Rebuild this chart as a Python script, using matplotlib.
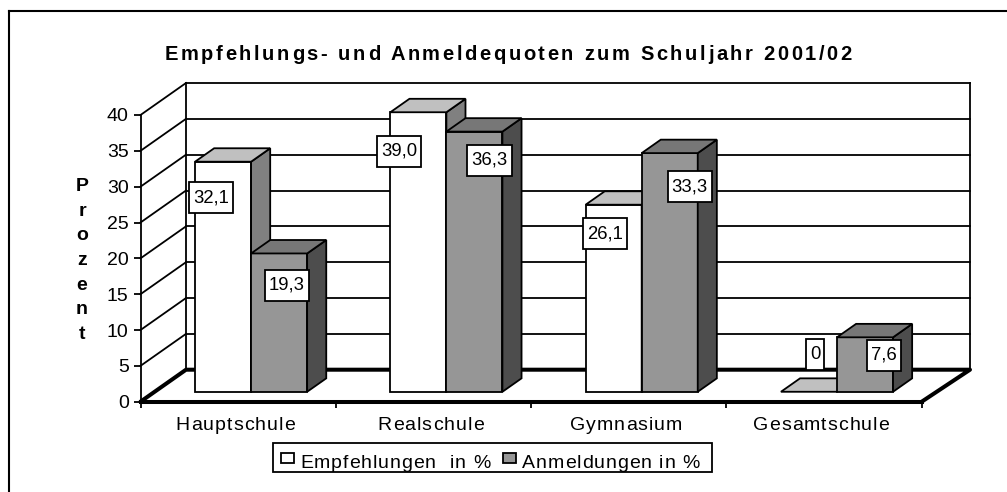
#!/usr/bin/env python
"""
Excel style pseudo 3D column chart, Empfehlungs- und Anmeldequoten 2001/02
"""
import matplotlib
matplotlib.use('Agg')
import matplotlib.pyplot as plt
from matplotlib.lines import Line2D
from matplotlib.patches import Rectangle
from matplotlib.path import Path
from matplotlib.text import Text

categories = ['Hauptschule', 'Realschule', 'Gymnasium', 'Gesamtschule']
empfehlungen = [32.1, 39.0, 26.1, 0.0]
anmeldungen = [19.3, 36.3, 33.3, 7.6]
empfehlungen_labels = ['32,1', '39,0', '26,1', '0']
anmeldungen_labels = ['19,3', '36,3', '33,3', '7,6']
y_ticks = [0, 5, 10, 15, 20, 25, 30, 35, 40]

title = 'Empfehlungs- und Anmeldequoten zum Schuljahr 2001/02'
y_label = 'P\nr\no\nz\ne\nn\nt'
legend_labels = ['Empfehlungen  in %', 'Anmeldungen in %']

# label box shift in pixels from the top centre of each bar front
empfehlungen_shift = [(-12, -36), (-19, -39), (-9, -29), (6, 37)]
anmeldungen_shift = [(8, -32), (15, -28.5), (20, -33.5), (19, -18)]

W, H = 1007, 492
LEFT, RIGHT, BOTTOM, TOP = 140.5, 921.7, 401.7, 115.0

plt.rcParams['font.family'] = ['Liberation Sans', 'DejaVu Sans']
FONT = 14
LABEL_FONT = 13.3
LW = 1.3

# depth of the wall in axis units
PX_X = (RIGHT - LEFT) / 4
WALL_DX = 45.5 / PX_X
WALL_DX_RIGHT = 48.3 / PX_X
WALL_DY = 32.0 / ((BOTTOM - TOP) / 40)
BAR_GAP = 0.207
BAR_W = 0.287
BAR_FRONT, BAR_BACK = 0.31, 0.73

WHITE = ('white', '#c0c0c0', '#808080')
GREY = ('#969696', '#777777', '#4d4d4d')


class SpacedText(Text):
    """
    Text with letter spacing in pixels, drawn one character at a time.
    """
    spacing = 0

    def draw(self, renderer):
        prop = self.get_fontproperties()
        _, info, _ = self._get_layout(renderer)
        posx, posy = self.get_transform().transform(
            self.get_unitless_position())
        line, _, x, y = info[0]
        extra = self.spacing * (len(line) - 1)
        x += posx
        if self.get_ha() == 'center':
            x -= extra / 2
        y += posy
        if renderer.flipy():
            y = renderer.get_canvas_width_height()[1] - y
        gc = renderer.new_gc()
        gc.set_foreground(self.get_color())
        for i, char in enumerate(line):
            w = renderer.get_text_width_height_descent(
                line[:i], prop, False)[0] if i else 0
            renderer.draw_text(gc, x + w + i * self.spacing, y, char, prop, 0)
        gc.restore()


def label_box(x0, y0, width, height, mutation_size):
    """
    Box style for the value labels, wider padding up and down than sideways.
    """
    x1, y1 = x0 + width + 4, y0 + height + 7
    x0, y0 = x0 - 4, y0 - 7
    return Path([(x0, y0), (x1, y0), (x1, y1), (x0, y1), (x0, y0)],
                closed=True)


def draw_bar(ax, x, value, colors):
    """
    Draws one column as front, top and side face.
    """
    front, top, side = colors
    x0 = x + BAR_FRONT * WALL_DX
    y0 = BAR_FRONT * WALL_DY
    dx = (BAR_BACK - BAR_FRONT) * WALL_DX
    dy = (BAR_BACK - BAR_FRONT) * WALL_DY
    edge = dict(edgecolor='black', linewidth=LW, clip_on=False, zorder=4)
    y1 = y0 + value
    x1 = x0 + BAR_W
    if value > 0:
        ax.bar(x0, value, BAR_W, bottom=y0, align='edge', color=front, **edge)
        ax.fill([x1, x1 + dx, x1 + dx, x1], [y0, y0 + dy, y1 + dy, y1],
                color=side, **edge)
    ax.fill([x0, x1, x1 + dx, x0 + dx], [y1, y1, y1 + dy, y1 + dy],
            color=top, **edge)
    return x0 + BAR_W / 2, y1


def value_label(ax, xy, text, shift):
    ax.annotate(text, xy, xytext=shift, textcoords='offset pixels',
                ha='center', va='center', fontsize=LABEL_FONT, zorder=6,
                annotation_clip=False,
                bbox=dict(boxstyle=label_box, facecolor='white',
                          edgecolor='black', linewidth=LW))


def fig_rect(fig, x0, y0, x1, y1, color):
    fig.add_artist(Rectangle((x0 / W, 1 - y1 / H), (x1 - x0) / W,
                             (y1 - y0) / H, facecolor=color,
                             edgecolor='black', linewidth=LW,
                             transform=fig.transFigure))


def fig_spaced(fig, x, y, text, spacing, **kwargs):
    t = SpacedText(x / W, 1 - y / H, text, transform=fig.transFigure, **kwargs)
    t.spacing = spacing
    fig.add_artist(t)


fig = plt.figure(figsize=(W / 100, H / 100), dpi=100)
ax = fig.add_axes([LEFT / W, (H - BOTTOM) / H,
                   (RIGHT - LEFT) / W, (BOTTOM - TOP) / H])
ax.set_xlim(0, 4)
ax.set_ylim(0, 40)
ax.patch.set_visible(False)
for name in ('top', 'right'):
    ax.spines[name].set_visible(False)
ax.spines['left'].set_linewidth(LW)
ax.spines['bottom'].set_linewidth(2.9)

# walls
line = dict(color='black', linewidth=LW, clip_on=False, zorder=1)
for v in y_ticks[1:]:
    ax.plot([0, WALL_DX], [v, v + WALL_DY], **line)
    ax.plot([WALL_DX, 4 + WALL_DX_RIGHT], [v + WALL_DY, v + WALL_DY], **line)
ax.plot([WALL_DX, WALL_DX], [WALL_DY, 40 + WALL_DY], **line)
ax.plot([4 + WALL_DX_RIGHT, 4 + WALL_DX_RIGHT], [WALL_DY, 40 + WALL_DY], **line)

# floor
floor = dict(color='black', linewidth=2.9, clip_on=False, zorder=2,
             solid_capstyle='round')
ax.plot([0, WALL_DX, 4 + WALL_DX_RIGHT, 4], [0, WALL_DY, WALL_DY, 0], **floor)

for i in range(len(categories)):
    x = i + BAR_GAP
    top_e = draw_bar(ax, x, empfehlungen[i], WHITE)
    top_a = draw_bar(ax, x + BAR_W, anmeldungen[i], GREY)
    value_label(ax, top_e, empfehlungen_labels[i], empfehlungen_shift[i])
    value_label(ax, top_a, anmeldungen_labels[i], anmeldungen_shift[i])

ax.set_yticks(y_ticks)
ax.tick_params(axis='y', length=5, width=LW, pad=3.5, labelsize=FONT)
ax.set_xticks([i + 0.485 for i in range(len(categories))])
ax.set_xticklabels(categories, fontsize=FONT)
ax.set_xticks(range(len(categories) + 1), minor=True)
ax.tick_params(axis='x', which='major', length=0, pad=11)
ax.tick_params(axis='x', which='minor', length=4, width=LW)
for label in ax.get_xticklabels():
    label.__class__ = SpacedText
    label.spacing = 1.0

fig_spaced(fig, 508, 55, title, 2.6, ha='center', va='center',
           fontsize=14.5, fontweight='bold')
fig.text(82 / W, 1 - 260.5 / H, y_label, ha='center', va='center',
         ma='center', fontsize=FONT, fontweight='bold', linespacing=1.59)

# legend, drawn by hand because of the letter spacing
fig_rect(fig, 272.7, 443, 712, 472, 'white')
fig_rect(fig, 281, 453, 294, 463, WHITE[0])
fig_rect(fig, 503, 453, 516, 463, GREY[0])
fig_spaced(fig, 300, 468, legend_labels[0], 0.9, ha='left', va='baseline',
           fontsize=FONT)
fig_spaced(fig, 522, 468, legend_labels[1], 0.9, ha='left', va='baseline',
           fontsize=FONT)

# outer chart frame, only left and top are inside the picture
frame = dict(color='black', linewidth=1.5, transform=fig.transFigure)
fig.add_artist(Line2D([9 / W, 9 / W], [0, 1 - 11 / H], **frame))
fig.add_artist(Line2D([9 / W, 1], [1 - 11 / H, 1 - 11 / H], **frame))

fig.savefig('out.png', dpi=100)
